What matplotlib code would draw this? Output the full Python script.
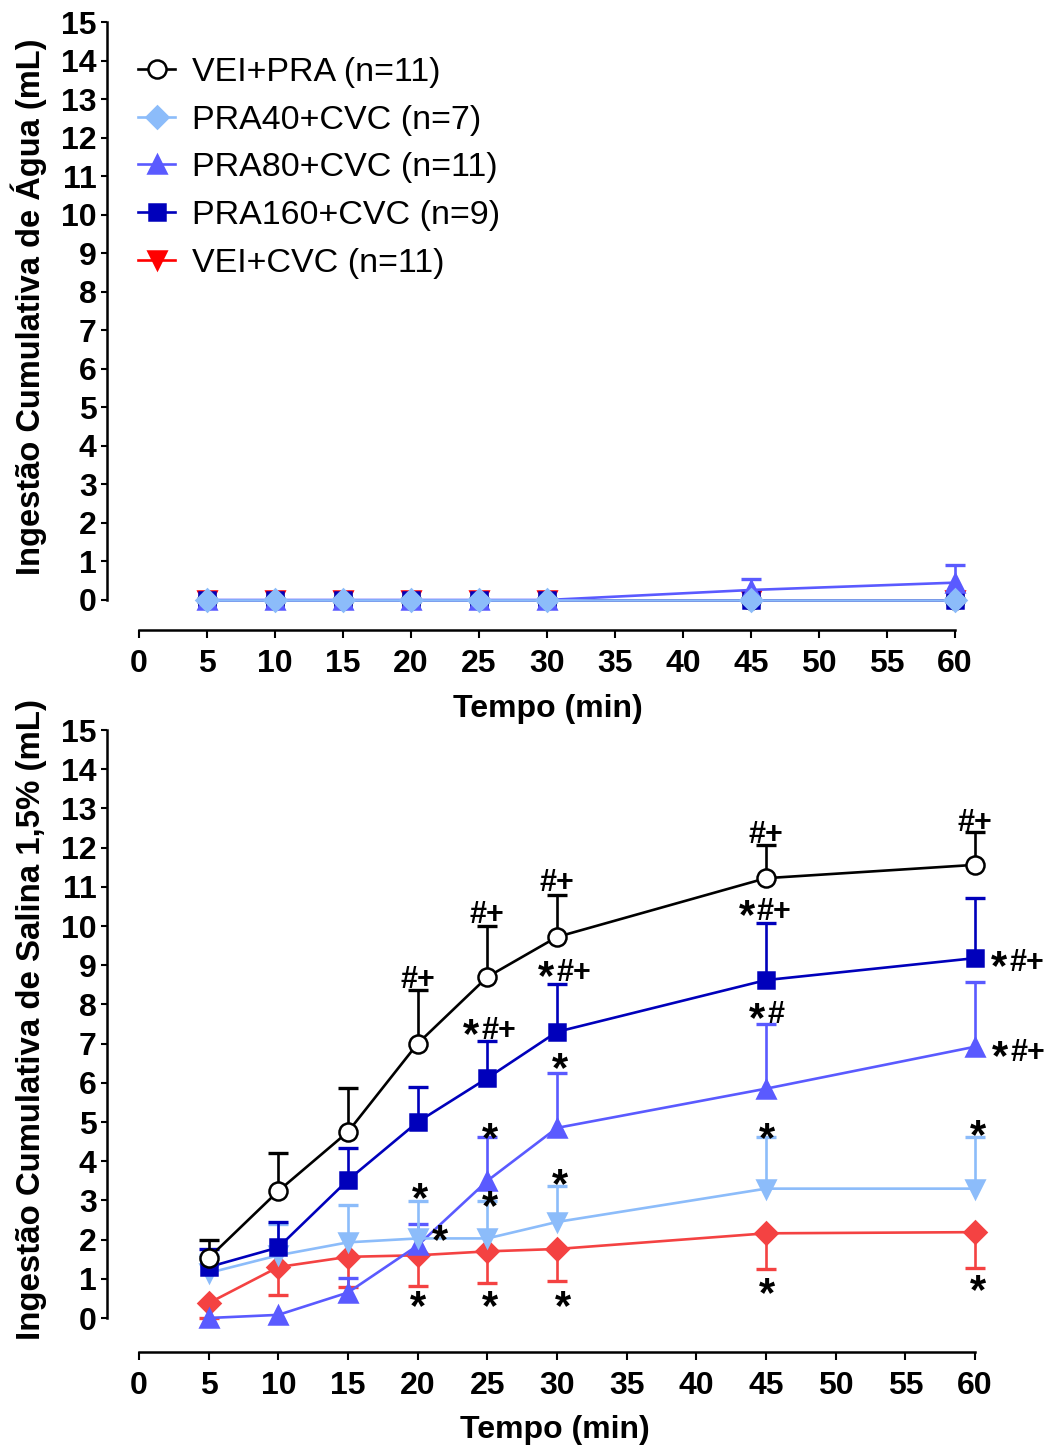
"""
Cumulative water and 1.5% saline intake over time, two stacked panels
in the GraphPad style (detached axes, one-sided SEM bars).
"""
import matplotlib
matplotlib.use("Agg")
import matplotlib.pyplot as plt
from matplotlib.ticker import MultipleLocator

plt.rcParams["font.family"] = ["Liberation Sans", "DejaVu Sans"]
plt.rcParams["font.weight"] = "bold"
plt.rcParams["axes.labelweight"] = "bold"

COLORS = {
    "black": "#000000",
    "light": "#8cbcfa",
    "mid": "#5a5aff",
    "dark": "#0000bb",
    "red": "#ff0000",
    "red_soft": "#f44242",
}

# time points (min)
tempo = [5, 10, 15, 20, 25, 30, 45, 60]

# --- water intake (top panel) ---
labels = ["VEI+PRA (n=11)", "PRA40+CVC (n=7)", "PRA80+CVC (n=11)",
          "PRA160+CVC (n=9)", "VEI+CVC (n=11)"]
agua_vei_pra = [0, 0, 0, 0, 0, 0, 0, 0]
agua_pra40 = [0, 0, 0, 0, 0, 0, 0, 0]
agua_pra80 = [0, 0, 0, 0, 0, 0, 0.26, 0.45]
agua_pra80_sem = [0, 0, 0, 0, 0, 0, 0.28, 0.45]
agua_pra160 = [0, 0, 0, 0, 0, 0, 0, 0]
agua_vei_cvc = [0, 0, 0, 0, 0, 0, 0, 0]

# --- 1.5% saline intake (bottom panel) ---
sal_vei_pra = [1.53, 3.24, 4.75, 7.0, 8.7, 9.72, 11.22, 11.56]
sal_vei_pra_sem = [0.47, 0.96, 1.12, 1.37, 1.3, 1.08, 0.85, 0.84]
sal_pra160 = [1.3, 1.8, 3.52, 5.0, 6.12, 7.3, 8.62, 9.18]
sal_pra160_sem = [0.45, 0.65, 0.82, 0.9, 0.95, 1.22, 1.46, 1.53]
sal_pra80 = [0.0, 0.08, 0.65, 1.85, 3.5, 4.85, 5.85, 6.92]
sal_pra80_sem = [0, 0, 0.37, 0.55, 1.12, 1.4, 1.65, 1.65]
sal_pra40 = [1.15, 1.6, 1.93, 2.03, 2.03, 2.45, 3.3, 3.3]
sal_pra40_sem = [0.45, 0.8, 0.95, 0.95, 0.95, 0.92, 1.32, 1.32]
sal_vei_cvc = [0.38, 1.3, 1.56, 1.6, 1.7, 1.76, 2.16, 2.19]
sal_vei_cvc_sem = [0.38, 0.71, 0.78, 0.78, 0.8, 0.81, 0.91, 0.92]

# significance marks (bottom panel), centre of each mark
marks_x = [20, 25, 30, 45, 60,
           25.2, 30.6, 45, 63.1, 45.1, 63.2,
           30.2, 25.2, 20.2, 21.6, 25.2, 30.2, 45.1, 60.2,
           20.0, 25.2, 30.4, 45.1, 60.2]
marks_y = [8.70, 10.36, 11.17, 12.40, 12.70,
           7.40, 8.88, 10.43, 9.13, 7.81, 6.84,
           6.58, 4.80, 3.27, 2.19, 3.06, 3.62, 4.80, 4.87,
           0.51, 0.51, 0.51, 0.84, 0.92]
marks_txt = ["#+"] * 5 + ["*#+", "*#+", "*#+", "*#+", "*#", "*#+"] + ["*"] * 13

STAR_SIZE = 30
MARK_SIZE = 22


def series(ax, y, color, marker, ms, sem=None, side="up", mfc=None, label=None, z=3):
    ax.plot(tempo, y, color=color, marker=marker, ms=ms, lw=1.9,
            mfc=mfc or color, mec=color, mew=1.8, label=label,
            clip_on=False, zorder=z)
    if sem is None:
        return
    ends = [v + s if side == "up" else v - s for v, s in zip(y, sem)]
    xs = [t for t, s in zip(tempo, sem) if s > 0]
    ys = [v for v, s in zip(y, sem) if s > 0]
    es = [e for e, s in zip(ends, sem) if s > 0]
    ax.vlines(xs, ys, es, color=color, lw=1.9, zorder=z - 0.5, clip_on=False)
    ax.plot(xs, es, ls="none", marker="_", ms=14, mew=2.4, color=color,
            zorder=z - 0.5, clip_on=False)


def put_mark(ax, x, y, txt):
    kw = dict(xy=(x, y), textcoords="offset points", va="baseline",
              annotation_clip=False, zorder=10, fontweight="bold")
    if txt == "*":
        ax.annotate("*", xytext=(0, -0.51 * STAR_SIZE), ha="center",
                    fontsize=STAR_SIZE, **kw)
        return
    base = -0.36 * MARK_SIZE
    if txt.startswith("*"):
        rest = txt[1:]
        off = (13 - 13 * len(rest)) / 2
        ax.annotate("*", xytext=(off - 1.5, base - 0.2 * STAR_SIZE), ha="right",
                    fontsize=STAR_SIZE, **kw)
        ax.annotate(rest, xytext=(off, base), ha="left", fontsize=MARK_SIZE, **kw)
    else:
        ax.annotate(txt, xytext=(0, base), ha="center", fontsize=MARK_SIZE, **kw)


def style_axes(ax):
    ax.set_xlim(0, 60)
    ax.set_ylim(0, 15)
    for side in ("top", "right"):
        ax.spines[side].set_visible(False)
    ax.spines["left"].set_position(("outward", 23))
    ax.spines["bottom"].set_position(("outward", 23))
    ax.spines["left"].set_bounds(0, 15)
    ax.spines["bottom"].set_bounds(0, 60)
    for side in ("left", "bottom"):
        ax.spines[side].set_linewidth(1.8)
    ax.xaxis.set_major_locator(MultipleLocator(5))
    ax.yaxis.set_major_locator(MultipleLocator(1))
    ax.tick_params(axis="y", length=4.5, width=1.5, pad=3, labelsize=23)
    ax.tick_params(axis="x", length=6, width=1.5, pad=8, labelsize=23)
    ax.set_xlabel("Tempo (min)", fontsize=23, va="top")


fig = plt.figure(figsize=(10.51, 14.52), dpi=100)
ax1 = fig.add_axes([139 / 1051, 1 - 600 / 1452, 816 / 1051, 578 / 1452])
ax2 = fig.add_axes([139 / 1051, 1 - 1318 / 1452, 836 / 1051, 588 / 1452])

# top panel
series(ax1, agua_vei_pra, COLORS["black"], "o", 13, mfc="white", label=labels[0], z=3)
series(ax1, agua_vei_cvc, COLORS["red"], "v", 12.5, label=labels[4], z=4)
series(ax1, agua_pra160, COLORS["dark"], "s", 12, label=labels[3], z=5)
series(ax1, agua_pra80, COLORS["mid"], "^", 12.5, sem=agua_pra80_sem, label=labels[2], z=6)
series(ax1, agua_pra40, COLORS["light"], "D", 11, label=labels[1], z=7)
style_axes(ax1)
ax1.spines["bottom"].set_position(("outward", 21.5))
ax1.set_ylabel("Ingestão Cumulativa de Água (mL)", fontsize=23.5)
ax1.yaxis.set_label_coords(-0.113, 0.507)
ax1.xaxis.set_label_coords(0.501, -0.162)

h, l = ax1.get_legend_handles_labels()
order = [l.index(s) for s in labels]
ax1.legend([h[i] for i in order], [l[i] for i in order],
           loc="upper left", bbox_to_anchor=(138 / 1051, 1 - 57 / 1452),
           bbox_transform=fig.transFigure, frameon=False,
           prop={"size": 24.5, "weight": "normal"},
           handlelength=1.1, handletextpad=0.5, labelspacing=0.49,
           borderpad=0, borderaxespad=0, markerscale=1.0)

# bottom panel
series(ax2, sal_vei_cvc, COLORS["red_soft"], "D", 11, sem=sal_vei_cvc_sem, side="down", z=3)
series(ax2, sal_pra80, COLORS["mid"], "^", 12.5, sem=sal_pra80_sem, z=4)
series(ax2, sal_pra40, COLORS["light"], "v", 12.5, sem=sal_pra40_sem, z=5)
series(ax2, sal_pra160, COLORS["dark"], "s", 12, sem=sal_pra160_sem, z=6)
series(ax2, sal_vei_pra, COLORS["black"], "o", 13, sem=sal_vei_pra_sem, mfc="white", z=7)
style_axes(ax2)
ax2.spines["bottom"].set_position(("outward", 24.5))
ax2.set_ylabel("Ingestão Cumulativa de Salina 1,5% (mL)", fontsize=23.8)
ax2.yaxis.set_label_coords(-0.110, 0.507)
ax2.xaxis.set_label_coords(0.4976, -0.165)

for x, y, t in zip(marks_x, marks_y, marks_txt):
    put_mark(ax2, x, y, t)

fig.savefig("out.png", dpi=100)
